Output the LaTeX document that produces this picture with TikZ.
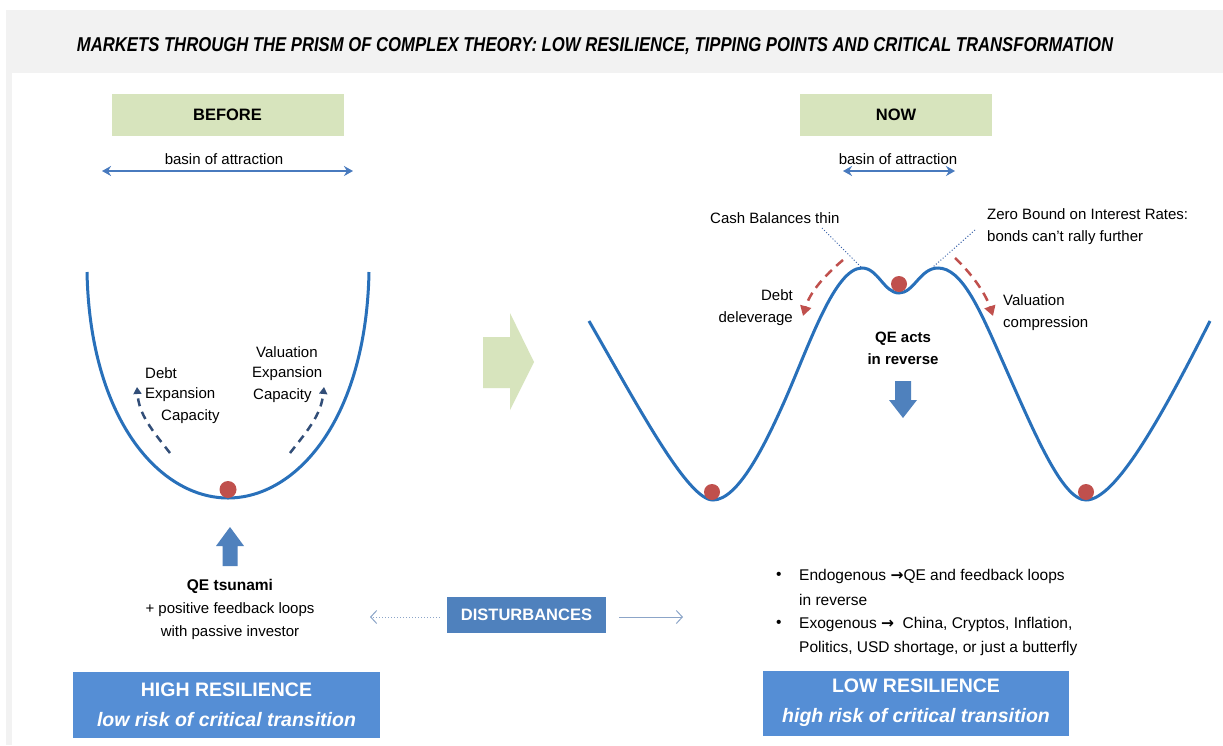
\documentclass[tikz,border=0pt]{standalone}
\usepackage{fontspec}
\setmainfont{Liberation Sans}
\newfontfamily\symfont{DejaVu Sans}
\usetikzlibrary{arrows.meta}
\definecolor{curveblue}{RGB}{40,112,186}
\definecolor{arrblue}{RGB}{72,122,190}
\definecolor{boxblue}{RGB}{85,142,213}
\definecolor{distblue}{RGB}{79,129,189}
\definecolor{navy}{RGB}{50,78,120}
\definecolor{ballred}{RGB}{192,80,77}
\definecolor{lightgreen}{RGB}{215,228,189}
\definecolor{framegray}{RGB}{242,242,242}
\definecolor{thinblue}{RGB}{140,165,200}
\definecolor{dotblue}{RGB}{60,100,170}
\tikzset{
  txt/.style={inner sep=0pt, font=\fontsize{15}{22}\selectfont},
  boldtxt/.style={inner sep=0pt, font=\bfseries\fontsize{15.5}{22}\selectfont},
  greenbox/.style={fill=lightgreen, inner sep=0pt, font=\bfseries\fontsize{16.5}{20}\selectfont},
  resbox/.style={fill=boxblue, text=white, inner sep=0pt, align=center, font=\bfseries\fontsize{19.5}{30}\selectfont},
  distbox/.style={fill=distblue, text=white, inner sep=0pt, font=\bfseries\fontsize{16.5}{20}\selectfont},
  basinarrow/.style={draw=arrblue, line width=2.5pt, {Stealth[length=9pt,width=10pt]}-{Stealth[length=9pt,width=10pt]}},
  curve/.style={draw=curveblue, line width=3pt},
  ball/.style={fill=ballred},
  navydash/.style={draw=navy, line width=2.5pt, dash pattern=on 8pt off 6pt, -{Triangle[length=7pt,width=8pt]}},
  reddash/.style={draw=ballred, line width=2.5pt, dash pattern=on 9pt off 6pt, -{Triangle[length=10pt,width=11pt]}},
  dotline/.style={draw=dotblue, line width=1pt, dotted},
  thinarrow/.style={draw=thinblue, line width=1pt, -{Straight Barb[length=6pt,width=13pt]}},
}
\begin{document}
\begin{tikzpicture}[x=1pt,y=-1pt]
\useasboundingbox (0,0) rectangle (1223,745);
\fill[white] (0,0) rectangle (1223,745);
\fill[framegray] (6,10) rectangle (1223,745);
\fill[white] (12,73) rectangle (1223,745);

% title
\node[inner sep=0pt, font=\bfseries\itshape\fontsize{18}{20}\selectfont] (title) at (595,46)
  {\resizebox{1036pt}{14pt}{MARKETS THROUGH THE PRISM OF COMPLEX THEORY: LOW RESILIENCE, TIPPING POINTS AND CRITICAL TRANSFORMATION}};

% ---------------- BEFORE ----------------
\node[greenbox, minimum width=232pt, minimum height=42pt] (before) at (227.5,114.5) {BEFORE};
\node[txt] (basinL) at (224,159) {basin of attraction};
\coordinate (bl1) at (102,171);
\coordinate (bl2) at (353,171);
\draw[basinarrow] (bl1) -- (bl2);

\draw[curve] (87,272) .. controls (90,420) and (160,498) .. (228,498)
             .. controls (296,498) and (366,420) .. (369,272);
\fill[ball] (228,489.5) circle (8.5);

\draw[navydash] (170,453) .. controls (152,430) and (139,415) .. (137,387);
\draw[navydash] (290,453) .. controls (308,430) and (321,415) .. (324,387);

\node[txt, anchor=west] (debtL1) at (145,373) {Debt};
\node[txt, anchor=west] (debtL2) at (145,395) {Expansion};
\node[txt, anchor=west] (debtL3) at (161,417) {Capacity};
\node[txt, anchor=west] (valL1) at (256,352) {Valuation};
\node[txt, anchor=west] (valL2) at (252,374) {Expansion};
\node[txt, anchor=west] (valL3) at (253,396) {Capacity};

\fill[distblue] (230,527) -- (244,546) -- (237.5,546) -- (237.5,566) -- (222.5,566) -- (222.5,546) -- (216,546) -- cycle;

\node[boldtxt] (qe) at (230,586) {QE tsunami};
\node[txt] (qe2) at (230,610) {+ positive feedback loops};
\node[txt] (qe3) at (230,633) {with passive investor};

\node[resbox, minimum width=307pt, minimum height=66pt] (high) at (226.5,705)
  {HIGH RESILIENCE\\\textit{low risk of critical transition}};

% ---------------- middle ----------------
\fill[lightgreen] (483,337) -- (510,337) -- (510,313) -- (534,362) -- (510,410) -- (510,388) -- (483,388) -- cycle;

\node[distbox, minimum width=159pt, minimum height=36pt] (dist) at (526.5,615) {DISTURBANCES};
\coordinate (dl) at (370,617);
\coordinate (dr) at (683,617);
\draw[thinarrow, dotted] ([xshift=-7pt,yshift=-2pt]dist.west) -- (dl);
\draw[thinarrow] ([xshift=13pt,yshift=-2pt]dist.east) -- (dr);

% ---------------- NOW ----------------
\node[greenbox, minimum width=192pt, minimum height=42pt] (now) at (896,114.5) {NOW};
\node[txt] (basinR) at (898,159) {basin of attraction};
\coordinate (br1) at (843,171);
\coordinate (br2) at (955,171);
\draw[basinarrow] (br1) -- (br2);

\draw[curve] (589,321) .. controls (640,410) and (688,500) .. (713,500)
   .. controls (738,500) and (765,445) .. (785,400)
   .. controls (810,343) and (835,268) .. (862,268)
   .. controls (878,268) and (884,293) .. (899,293)
   .. controls (914,293) and (920,268) .. (938,268)
   .. controls (962,268) and (980,310) .. (1002,360)
   .. controls (1034,432) and (1062,500) .. (1086,500)
   .. controls (1115,500) and (1160,420) .. (1210,321);
\fill[ball] (712,492) circle (8);
\fill[ball] (1086,492) circle (8);
\fill[ball] (899,284) circle (8);

\coordinate (peakL) at (861,267);
\coordinate (peakR) at (933,267);
\node[txt, anchor=west] (cash) at (710,218) {Cash Balances thin};
\node[txt, anchor=north west, align=left] (zero) at (987,208) {Zero Bound on Interest Rates:\\bonds can't rally further};
\draw[dotline] (822,228) -- (peakL);
\draw[dotline] (975,230) -- (peakR);

\draw[reddash] (843,260) .. controls (825,275) and (810,292) .. (803,316);
\draw[reddash] (955,258) .. controls (970,272) and (985,292) .. (993,316);

\node[txt, anchor=east, align=right] (debtR) at (793,308) {Debt\\deleverage};
\node[txt, anchor=west, align=left] (valR) at (1003,313) {Valuation\\compression};

\node[boldtxt, align=center, font=\bfseries\fontsize{15}{22}\selectfont] (qeacts) at (903,348) {QE acts\\in reverse};
\fill[distblue] (895,381) -- (911,381) -- (911,400) -- (917,400) -- (903,418) -- (889,400) -- (895,400) -- cycle;

\node[txt, anchor=west, font=\fontsize{15.5}{22}\selectfont] (b1) at (776,576) {•};
\node[txt, anchor=west, font=\fontsize{15.5}{22}\selectfont] (e1) at (799,576) {Endogenous {\symfont\bfseries →}QE and feedback loops};
\node[txt, anchor=west, font=\fontsize{15.5}{22}\selectfont] (e2) at (799,600) {in reverse};
\node[txt, anchor=west, font=\fontsize{15.5}{22}\selectfont] (b2) at (776,624) {•};
\node[txt, anchor=west, font=\fontsize{15.5}{22}\selectfont] (x1) at (799,624) {Exogenous {\symfont\bfseries →}\ \ China, Cryptos, Inflation,};
\node[txt, anchor=west, font=\fontsize{15.5}{22}\selectfont] (x2) at (799,648) {Politics, USD shortage, or just a butterfly};

\node[resbox, minimum width=306pt, minimum height=65pt] (low) at (916,703)
  {LOW RESILIENCE\\\textit{high risk of critical transition}};
\end{tikzpicture}
\end{document}
